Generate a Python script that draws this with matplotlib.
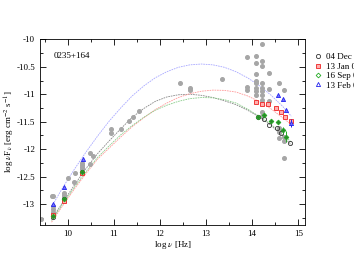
import matplotlib
matplotlib.use("Agg")
import matplotlib.pyplot as plt
from matplotlib.ticker import MultipleLocator, FormatStrFormatter

plt.rcParams['font.family'] = ['Liberation Serif', 'DejaVu Serif']
plt.rcParams['mathtext.fontset'] = 'stix'

# archival points (grey)
arch_x = [9.42, 9.65, 9.69, 9.69, 9.69, 9.69, 9.69, 9.91, 9.91, 9.91, 9.91,
          10.01, 10.14, 10.16, 10.32, 10.32, 10.32, 10.32, 10.48, 10.48, 10.56,
          10.93, 10.93, 11.15, 11.33, 11.41, 11.55, 12.44, 12.66, 12.66, 13.35,
          13.89, 13.89, 13.89, 14.08, 14.09, 14.09, 14.09, 14.09, 14.09, 14.09, 14.09,
          14.21, 14.21, 14.21, 14.21, 14.21, 14.21, 14.21, 14.21, 14.21, 14.21,
          14.36, 14.36, 14.36, 14.58, 14.58, 14.58, 14.58, 14.69, 14.69, 14.69, 14.69]
arch_y = [-13.28, -12.86, -12.86, -13.04, -13.09, -13.14, -13.19, -12.79, -12.83, -12.87, -12.94,
          -12.52, -12.59, -12.44, -12.25, -12.29, -12.33, -12.37, -12.07, -12.27, -12.12,
          -11.64, -11.71, -11.63, -11.48, -11.42, -11.30, -10.80, -10.89, -10.93, -10.73,
          -10.32, -10.87, -10.92, -10.30, -10.44, -10.64, -10.75, -10.79, -10.89, -10.95, -11.01,
          -10.09, -10.39, -10.49, -10.79, -10.89, -10.95, -11.02, -11.10, -11.32, -11.39,
          -10.61, -10.91, -11.13, -10.80, -11.62, -11.68, -11.80, -10.93, -11.77, -11.86, -12.16]

# observing epochs
dec04_x = [9.69, 9.91, 10.32, 14.13, 14.25, 14.37, 14.53, 14.62, 14.83]
dec04_y = [-13.24, -12.90, -12.41, -11.41, -11.45, -11.56, -11.62, -11.70, -11.89]

jan05_x = [9.69, 9.91, 10.32, 14.09, 14.22, 14.34, 14.52, 14.63, 14.72, 14.85]
jan05_y = [-13.20, -12.95, -12.44, -11.14, -11.17, -11.18, -11.25, -11.32, -11.41, -11.49]

sep05_x = [9.69, 9.91, 10.32, 14.13, 14.25, 14.40, 14.57, 14.67, 14.74]
sep05_y = [-13.22, -12.90, -12.41, -11.41, -11.37, -11.48, -11.50, -11.65, -11.77]
sep05_e = [0, 0, 0, 0, 0, 0, 0, 0.06, 0.10]

feb06_x = [9.69, 9.91, 10.34, 14.57, 14.67, 14.74, 14.85]
feb06_y = [-12.99, -12.68, -12.18, -11.01, -11.08, -11.29, -11.52]
feb06_e = [0, 0, 0, 0, 0, 0, 0.07]

# model curves
mod_x = [9.65, 9.9, 10.15, 10.4, 10.65, 10.9, 11.15, 11.4, 11.65, 11.9, 12.15,
         12.4, 12.65, 12.9, 13.15, 13.4, 13.65, 13.9, 14.15, 14.4, 14.65, 14.85]
mod_dec04 = [-13.28, -12.96, -12.65, -12.35, -12.08, -11.85, -11.63, -11.42, -11.26, -11.13, -11.05,
             -11.01, -11.00, -11.02, -11.06, -11.12, -11.19, -11.29, -11.41, -11.56, -11.75, -11.92]
mod_jan05 = [-13.33, -13.02, -12.72, -12.44, -12.18, -11.98, -11.78, -11.59, -11.43, -11.28, -11.16,
             -11.06, -10.99, -10.945, -10.925, -10.93, -10.96, -11.03, -11.13, -11.26, -11.42, -11.55]
mod_sep05 = [-13.30, -12.99, -12.69, -12.41, -12.15, -11.94, -11.74, -11.57, -11.42, -11.29, -11.20,
             -11.13, -11.08, -11.06, -11.065, -11.10, -11.16, -11.27, -11.40, -11.54, -11.72, -11.87]
mod_feb06 = [-13.05, -12.69, -12.36, -12.05, -11.76, -11.49, -11.25, -11.03, -10.85, -10.70, -10.59,
             -10.51, -10.465, -10.45, -10.465, -10.51, -10.59, -10.70, -10.84, -11.01, -11.21, -11.40]

fig = plt.figure(figsize=(3.54, 2.73), dpi=100)
ax = fig.add_axes([0.113, 0.176, 0.749, 0.68])

ax.plot(mod_x, mod_dec04, color='#888888', lw=0.6, ls=(0, (2, 1)))
ax.plot(mod_x, mod_jan05, color='#ff9a9a', lw=0.6, ls=(0, (2, 1)))
ax.plot(mod_x, mod_sep05, color='#8acc8a', lw=0.6, ls=(0, (2, 1)))
ax.plot(mod_x, mod_feb06, color='#a8a8ff', lw=0.6, ls=(0, (2, 1)))

ax.plot(arch_x, arch_y, 'o', ms=2.6, color='#a6a6a6', mec='#a6a6a6', ls='none')

ax.plot(dec04_x, dec04_y, 'o', ms=3, mfc='none', mec='#333333', mew=0.6, ls='none', label='04 Dec 04')
ax.plot(jan05_x, jan05_y, 's', ms=3, mfc='#ffb0b0', mec='#ee2222', mew=0.6, ls='none', label='13 Jan 05')
ax.errorbar(sep05_x, sep05_y, yerr=sep05_e, fmt='D', ms=2.4, mfc='#2a8a2a', mec='#22aa22',
            mew=0.6, ecolor='#22aa22', elinewidth=0.7, capsize=0, ls='none')
ax.plot([], [], 'D', ms=2.4, mfc='none', mec='#22aa22', mew=0.6, ls='none', label='16 Sep 05')
ax.errorbar(feb06_x, feb06_y, yerr=feb06_e, fmt='^', ms=3, mfc='#7070ff', mec='#2222ee',
            mew=0.6, ecolor='#2222ee', elinewidth=0.7, capsize=0, ls='none')
ax.plot([], [], '^', ms=3, mfc='none', mec='#2222ee', mew=0.6, ls='none', label='13 Feb 06')

ax.set_xlim(9.4, 15.15)
ax.set_ylim(-13.38, -10.0)
ax.xaxis.set_major_locator(MultipleLocator(1))
ax.xaxis.set_minor_locator(MultipleLocator(0.5))
ax.yaxis.set_major_locator(MultipleLocator(0.5))
ax.yaxis.set_minor_locator(MultipleLocator(0.25))
ax.yaxis.set_major_formatter(FormatStrFormatter('%g'))
ax.tick_params(which='both', direction='in', top=True, right=True, labelsize=6.5, width=0.6)
ax.tick_params(which='major', length=4)
ax.tick_params(which='minor', length=2)
for s in ax.spines.values():
    s.set_linewidth(0.6)

ax.set_xlabel(r'log $\nu$ [Hz]', fontsize=6.5, labelpad=1)
ax.set_ylabel(r'log $\nu$F$_\nu$ [erg cm$^{-2}$ s$^{-1}$]', fontsize=6.5)
ax.yaxis.set_label_coords(-0.085, 0.5)
ax.text(0.05, 0.90, '0235+164', transform=ax.transAxes, fontsize=6.5)

fig.legend(loc='upper left', bbox_to_anchor=(0.87, 0.822), frameon=False, fontsize=6.5,
           handletextpad=0.3, handlelength=1.2, labelspacing=0.12, borderpad=0)

fig.savefig('out.png', dpi=100)
